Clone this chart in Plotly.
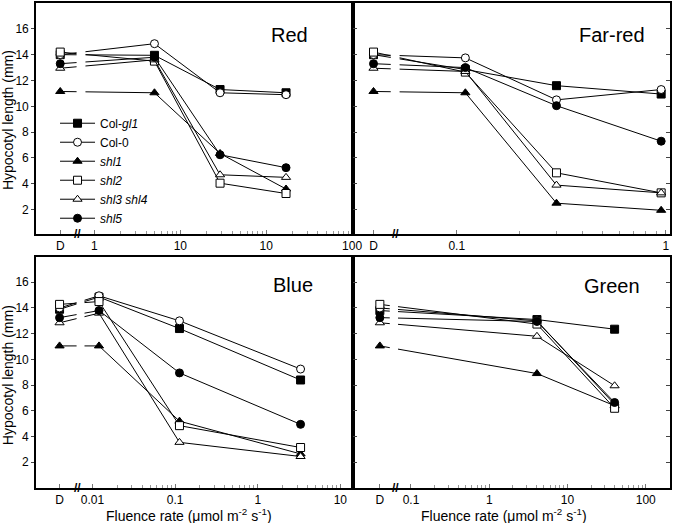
import plotly.graph_objects as go
from plotly.subplots import make_subplots

# ---------------- data ----------------
series_names = ["Col-<i>gl1</i>", "Col-0", "<i>shl1</i>", "<i>shl2</i>",
                "<i>shl3 shl4</i>", "<i>shl5</i>"]
symbols = ["square", "circle", "triangle-up", "square", "triangle-up", "circle"]
fills = ["black", "white", "black", "white", "white", "black"]

# first value of each x list is the dark ("D") position
red_x = [0.4, 5, 29, 170]
red_y = [
    [14.0, 13.95, 11.3, 11.05],
    [14.0, 14.85, 11.05, 10.9],
    [11.15, 11.05, 6.35, 3.6],
    [14.2, 13.5, 4.05, 3.25],
    [12.95, 13.6, 4.7, 4.5],
    [13.3, 13.8, 6.25, 5.25],
]
farred_x = [0.04, 0.11, 0.30, 0.95]
farred_y = [
    [14.0, 12.85, 11.6, 10.95],
    [14.0, 13.75, 10.5, 11.3],
    [11.15, 11.05, 2.5, 1.95],
    [14.2, 12.65, 4.85, 3.3],
    [12.95, 12.7, 3.9, 3.3],
    [13.3, 13.0, 10.05, 7.3],
]
blue_x = [0.004, 0.012, 0.113, 3.3]
blue_y = [
    [13.9, 14.85, 12.4, 8.4],
    [14.0, 14.95, 13.0, 9.25],
    [11.05, 11.05, 5.2, 2.65],
    [14.28, 14.5, 4.85, 3.15],
    [12.85, 13.6, 3.55, 2.45],
    [13.25, 13.8, 8.95, 4.95],
]
green_x = [0.04, 4.07, 40]
green_y = [
    [13.8, 13.1, 12.35],
    [14.0, 13.0, 6.5],
    [11.05, 8.9, 6.4],
    [14.28, 12.75, 6.2],
    [12.85, 11.8, 7.95],
    [13.25, 12.95, 6.65],
]

red_tickvals = [0.4, 1, 10, 100, 1000]
red_ticktext = ["D", "1", "10", "10", "100"]
farred_tickvals = [0.04, 0.1, 1]
farred_ticktext = ["D", "0.1", "1"]
blue_tickvals = [0.004, 0.01, 0.1, 1, 10]
blue_ticktext = ["D", "0.01", "0.1", "1", "10"]
green_tickvals = [0.04, 0.1, 1, 10, 100]
green_ticktext = ["D", "0.1", "1", "10", "100"]

y_tickvals = [2, 4, 6, 8, 10, 12, 14, 16]
panel_titles = ["Red", "Far-red", "Blue", "Green"]

FONT = "Liberation Sans, Arial, Helvetica, sans-serif"

fig = make_subplots(rows=2, cols=2, horizontal_spacing=0,
                    vertical_spacing=24 / 487)

panels = [
    (1, 1, red_x, red_y, red_tickvals, red_ticktext, [-0.68, 3.01], [0, 1, 2]),
    (1, 2, farred_x, farred_y, farred_tickvals, farred_ticktext, [-1.496, 0.02], [-1]),
    (2, 1, blue_x, blue_y, blue_tickvals, blue_ticktext, [-2.683, 1.153], [-2, -1, 0]),
    (2, 2, green_x, green_y, green_tickvals, green_ticktext, [-1.741, 2.31], [-1, 0, 1]),
]

for p, (r, c, xs, ys, tv, tt, xr, decades) in enumerate(panels):
    for i, name in enumerate(series_names):
        fig.add_trace(go.Scatter(
            x=xs, y=ys[i], mode="lines+markers", name=name,
            legendgroup=name, showlegend=(p == 0),
            line=dict(color="black", width=1),
            marker=dict(symbol=symbols[i], size=8, color=fills[i],
                        line=dict(color="black", width=1)),
        ), row=r, col=c)
    minor_vals = [m * 10 ** k for k in decades for m in range(2, 10)]
    fig.update_xaxes(
        type="log", range=xr, tickmode="array", tickvals=tv, ticktext=tt,
        ticks="inside", ticklen=4, tickcolor="#777", tickwidth=1,
        minor=dict(tickmode="array", tickvals=minor_vals, ticks="inside",
                   ticklen=3, tickcolor="#999", tickwidth=1),
        showline=True, linecolor="black", linewidth=1.7, mirror=True,
        showgrid=False, zeroline=False,
        tickfont=dict(family=FONT, size=12, color="black"),
        row=r, col=c)
    yr = [0.15, 18.0] if r == 1 else [0.0, 17.93]
    if c == 1:
        fig.update_yaxes(range=yr, tickvals=y_tickvals, ticks="outside",
                         ticklen=3, tickcolor="#444", showticklabels=True,
                         showline=True, linecolor="black", linewidth=1.7,
                         mirror=True, showgrid=False, zeroline=False,
                         tickfont=dict(family=FONT, size=12, color="black"),
                         row=r, col=c)
    else:
        fig.update_yaxes(range=yr, tickvals=y_tickvals, ticks="inside",
                         ticklen=4, tickcolor="#444", showticklabels=False,
                         showline=True, linecolor="black", linewidth=1.7,
                         mirror="ticks", showgrid=False, zeroline=False,
                         row=r, col=c)

# axis-break masks and "//" marks
axis_ids = ["", "2", "3", "4"]
mask_ranges = [(0.128, 0.156), (0.119, 0.147), (0.128, 0.153), (0.116, 0.142)]
break_pos = [0.131, 0.134, 0.131, 0.134]
for ax, (m0, m1), bp in zip(axis_ids, mask_ranges, break_pos):
    fig.add_shape(type="rect", xref=f"x{ax} domain", yref=f"y{ax}",
                  x0=m0, x1=m1, y0=9.8, y1=16.5, fillcolor="white",
                  line=dict(width=0), layer="above")
    fig.add_annotation(text="<b>//</b>", xref=f"x{ax} domain", yref=f"y{ax} domain",
                       x=bp, y=0, xanchor="center", yanchor="middle",
                       showarrow=False, font=dict(family=FONT, size=12, color="black"))

# panel titles
title_pos = [(0.40, 0.934), (0.909, 0.934), (0.405, 0.419), (0.909, 0.417)]
for t, (tx, ty) in zip(panel_titles, title_pos):
    fig.add_annotation(text=t, xref="paper", yref="paper", x=tx, y=ty,
                       xanchor="center", yanchor="middle", showarrow=False,
                       font=dict(family=FONT, size=20, color="black"))

# axis titles
for ty in (0.758, 0.232):
    fig.add_annotation(text="Hypocotyl length (mm)", xref="paper", yref="paper",
                       x=-0.043, y=ty, textangle=-90, xanchor="center",
                       yanchor="middle", showarrow=False,
                       font=dict(family=FONT, size=14, color="black"))
for tx in (0.2406, 0.7375):
    fig.add_annotation(text="Fluence rate (μmol m<sup>-2</sup> s<sup>-1</sup>)",
                       xref="paper", yref="paper", x=tx, y=-0.055,
                       xanchor="center", yanchor="middle", showarrow=False,
                       font=dict(family=FONT, size=14, color="black"))

fig.update_layout(
    width=680, height=523,
    margin=dict(l=36, r=4, t=1, b=35),
    paper_bgcolor="white", plot_bgcolor="white",
    font=dict(family=FONT, size=12, color="black"),
    showlegend=True,
    hovermode=False,
    legend=dict(x=0.03, y=0.782, xanchor="left", yanchor="top",
                bgcolor="rgba(0,0,0,0)", borderwidth=0,
                font=dict(family=FONT, size=12, color="black"),
                itemwidth=35, tracegroupgap=0),
)

fig.write_html("out.html", config={"displayModeBar": False},
               post_script="document.body.style.margin='0px';document.body.style.overflow='hidden';")
